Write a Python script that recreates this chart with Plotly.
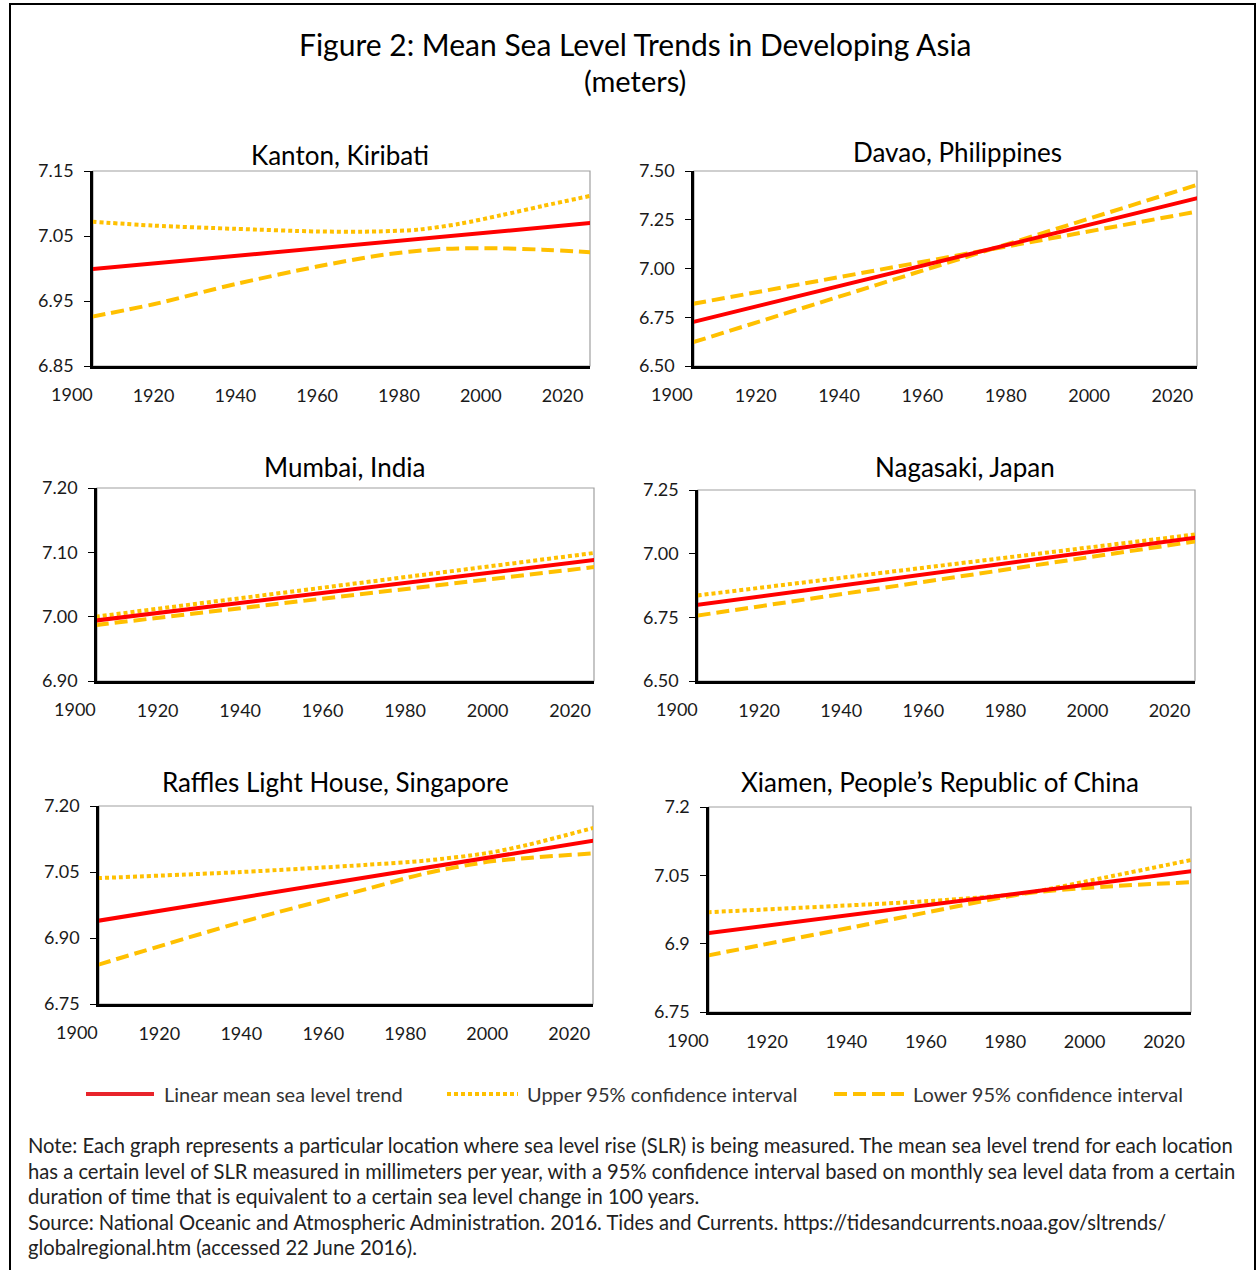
import plotly.graph_objects as go

W, H = 1257, 1270
FONT = "Lato"
RED = "#FF0000"
GOLD = "#FFC000"

# ---------------- data ----------------
titles = ["Kanton, Kiribati", "Davao, Philippines", "Mumbai, India",
          "Nagasaki, Japan", "Raffles Light House, Singapore",
          "Xiamen, People\u2019s Republic of China"]

# Kanton, Kiribati
kanton_lin_years = [1905, 2027]
kanton_lin = [6.999, 7.070]
kanton_up_years = [1905, 1920, 1940, 1960, 1975, 1985, 1995, 2005, 2015, 2027]
kanton_up = [7.072, 7.066, 7.061, 7.057, 7.057, 7.060, 7.069, 7.082, 7.096, 7.112]
kanton_lo_years = [1905, 1920, 1940, 1960, 1975, 1990, 2005, 2015, 2027]
kanton_lo = [6.926, 6.945, 6.976, 7.003, 7.020, 7.030, 7.031, 7.029, 7.025]

# Davao, Philippines
davao_years = [1905, 2027]
davao_lin = [6.726, 7.366]
davao_up = [6.622, 7.436]
davao_lo = [6.819, 7.296]

# Mumbai, India
mumbai_years = [1905, 2027]
mumbai_lin = [6.994, 7.089]
mumbai_up = [7.000, 7.100]
mumbai_lo = [6.987, 7.078]

# Nagasaki, Japan
nagasaki_years = [1905, 2027]
nagasaki_lin = [6.799, 7.064]
nagasaki_up = [6.836, 7.077]
nagasaki_lo = [6.757, 7.050]

# Raffles Light House, Singapore
raffles_lin_years = [1905, 2027]
raffles_lin = [6.939, 7.123]
raffles_ci_years = [1905, 1940, 1970, 1985, 2000, 2010, 2027]
raffles_up = [7.036, 7.050, 7.066, 7.076, 7.093, 7.112, 7.153]
raffles_lo = [6.839, 6.936, 7.010, 7.047, 7.073, 7.082, 7.093]

# Xiamen, People's Republic of China
xiamen_lin_years = [1905, 2027]
xiamen_lin = [6.923, 7.059]
xiamen_ci_years = [1905, 1945, 1965, 1985, 2005, 2027]
xiamen_up = [6.969, 6.986, 6.996, 7.011, 7.045, 7.084]
xiamen_lo = [6.874, 6.942, 6.977, 7.010, 7.025, 7.035]

x_tickvals = [1920, 1940, 1960, 1980, 2000, 2020]
x_first_label = 1900

y_ranges = [[6.85, 7.15], [6.5, 7.5], [6.9, 7.2], [6.5, 7.25], [6.75, 7.2], [6.75, 7.2]]
y_tickvals = [[6.85, 6.95, 7.05, 7.15], [6.5, 6.75, 7.0, 7.25, 7.5], [6.9, 7.0, 7.1, 7.2],
              [6.5, 6.75, 7.0, 7.25], [6.75, 6.9, 7.05, 7.2], [6.75, 6.9, 7.05, 7.2]]
y_ticktext = [["6.85", "6.95", "7.05", "7.15"], ["6.50", "6.75", "7.00", "7.25", "7.50"],
              ["6.90", "7.00", "7.10", "7.20"], ["6.50", "6.75", "7.00", "7.25"],
              ["6.75", "6.90", "7.05", "7.20"], ["6.75", "6.9", "7.05", "7.2"]]

legend_names = ["Linear mean sea level trend", "Upper 95% confidence interval",
                "Lower 95% confidence interval"]

note_lines = [
    "Note: Each graph represents a particular location where sea level rise (SLR) is being measured. "
    "The mean sea level trend for each location",
    "has a certain level of SLR measured in millimeters per year, with a 95% confidence interval "
    "based on monthly sea level data from a certain",
    "duration of time that is equivalent to a certain sea level change in 100 years.",
    "Source: National Oceanic and Atmospheric Administration. 2016. Tides and Currents. "
    "https://tidesandcurrents.noaa.gov/sltrends/",
    "globalregional.htm (accessed 22 June 2016).",
]

# ---------------- layout geometry (pixels) ----------------
panels = [  # left, right, top, bottom
    (93, 590, 171, 366),
    (694, 1197, 171, 366),
    (97, 594, 488, 681),
    (698, 1195, 490, 681),
    (99, 593, 806, 1004),
    (709, 1191, 807, 1012),
]
x_ranges = [[1905.2, 2026.7], [1905.2, 2025.9], [1905.3, 2025.8],
            [1905.1, 2026.2], [1905.3, 2025.8], [1905.4, 2026.8]]
title_pos = [(340, 155), (957, 152), (344, 467), (965, 467), (335, 782), (940, 782)]


def fx(p):
    return p / W


def fy(p):
    return 1 - p / H


series = [
    [(kanton_lin_years, kanton_lin, "solid", "linear"),
     (kanton_up_years, kanton_up, "dot", "spline"),
     (kanton_lo_years, kanton_lo, "dash", "spline")],
    [(davao_years, davao_lin, "solid", "linear"),
     (davao_years, davao_up, "dash", "linear"),
     (davao_years, davao_lo, "dash", "linear")],
    [(mumbai_years, mumbai_lin, "solid", "linear"),
     (mumbai_years, mumbai_up, "dot", "linear"),
     (mumbai_years, mumbai_lo, "dash", "linear")],
    [(nagasaki_years, nagasaki_lin, "solid", "linear"),
     (nagasaki_years, nagasaki_up, "dot", "linear"),
     (nagasaki_years, nagasaki_lo, "dash", "linear")],
    [(raffles_lin_years, raffles_lin, "solid", "linear"),
     (raffles_ci_years, raffles_up, "dot", "spline"),
     (raffles_ci_years, raffles_lo, "dash", "spline")],
    [(xiamen_lin_years, xiamen_lin, "solid", "linear"),
     (xiamen_ci_years, xiamen_up, "dot", "spline"),
     (xiamen_ci_years, xiamen_lo, "dash", "spline")],
]

DASH = {"solid": "solid", "dot": "4px,3px", "dash": "13px,6px"}
COLOR = {"solid": RED, "dot": GOLD, "dash": GOLD}
WIDTH = {"solid": 4, "dot": 4, "dash": 4}
TICKFONT = dict(family=FONT, size=18, color="#1a1a1a")

fig = go.Figure()
layout = dict(
    width=W, height=H, autosize=False,
    margin=dict(l=0, r=0, t=0, b=0, pad=0, autoexpand=False),
    paper_bgcolor="white", plot_bgcolor="white", showlegend=False,
    font=dict(family=FONT, color="#111111"),
)
annotations = []
shapes = []

for i, (l, r, t, b) in enumerate(panels):
    n = i + 1
    xa = "x" if n == 1 else f"x{n}"
    ya = "y" if n == 1 else f"y{n}"
    for k in [1, 2, 0]:  # confidence lines first, trend on top
        xs, ys, style, shape = series[i][k]
        fig.add_trace(go.Scatter(
            x=xs, y=ys, mode="lines", xaxis=xa, yaxis=ya,
            name=legend_names[k],
            line=dict(color=COLOR[style], width=WIDTH[style], dash=DASH[style],
                      shape=shape, smoothing=0.8 if shape == "spline" else None),
            hoverinfo="skip",
        ))
    layout["xaxis" if n == 1 else f"xaxis{n}"] = dict(
        domain=[fx(l), fx(r)], range=x_ranges[i], anchor=ya, automargin=False,
        tickvals=x_tickvals, showgrid=False, zeroline=False,
        showline=True, linecolor="black", linewidth=2.5, ticks="",
        ticklabelstandoff=12, tickfont=TICKFONT,
    )
    layout["yaxis" if n == 1 else f"yaxis{n}"] = dict(
        domain=[fy(b), fy(t)], range=y_ranges[i], anchor=xa, automargin=False,
        tickvals=y_tickvals[i], ticktext=y_ticktext[i], showgrid=False,
        zeroline=False, showline=True, linecolor="black", linewidth=2.5,
        ticks="outside", ticklen=6, tickwidth=1.2, tickcolor="black",
        ticklabelstandoff=7, tickfont=TICKFONT,
    )
    # gray frame (top/right)
    shapes.append(dict(type="rect", xref=f"{xa} domain", yref=f"{ya} domain",
                       x0=0, x1=1, y0=0, y1=1, layer="below",
                       line=dict(color="#A0A0A0", width=1.2)))
    # first x tick label (1900) sits left of the plotted range
    r0, r1 = x_ranges[i]
    annotations.append(dict(
        xref=f"{xa} domain", yref=f"{ya} domain",
        x=(x_first_label - r0) / (r1 - r0), y=0, yanchor="top",
        xanchor="center", showarrow=False, yshift=-15,
        text=str(x_first_label), font=TICKFONT,
    ))
    # subplot title
    tx, ty = title_pos[i]
    annotations.append(dict(
        xref="paper", yref="paper", x=fx(tx), y=fy(ty), xanchor="center",
        yanchor="middle", showarrow=False, text=titles[i],
        font=dict(family=FONT, size=26, color="#000000"),
    ))

# main title
annotations.append(dict(xref="paper", yref="paper", x=fx(635), y=fy(44),
                        xanchor="center", yanchor="middle", showarrow=False,
                        text="Figure 2: Mean Sea Level Trends in Developing Asia",
                        font=dict(family=FONT, size=30, color="#000000")))
annotations.append(dict(xref="paper", yref="paper", x=fx(635), y=fy(80),
                        xanchor="center", yanchor="middle", showarrow=False,
                        text="(meters)",
                        font=dict(family=FONT, size=29, color="#000000")))

# custom legend
leg_y = 1094
leg_items = [(86, 154, 162, "solid"), (447, 518, 525, "dot"), (834, 905, 911, "dash")]
for (x0, x1, tx, style), name in zip(leg_items, legend_names):
    shapes.append(dict(type="line", xref="paper", yref="paper",
                       x0=fx(x0), x1=fx(x1), y0=fy(leg_y), y1=fy(leg_y),
                       line=dict(color=COLOR[style] if style != "solid" else "#E8242B",
                                 width=4, dash=DASH[style])))
    annotations.append(dict(xref="paper", yref="paper", x=fx(tx), y=fy(leg_y),
                            xanchor="left", yanchor="middle", showarrow=False,
                            text=name, font=dict(family=FONT, size=20, color="#333333")))

# note / source lines
for j, line in enumerate(note_lines):
    annotations.append(dict(xref="paper", yref="paper", x=fx(26), y=fy(1145 + 25.5 * j),
                            xanchor="left", yanchor="middle", align="left", showarrow=False,
                            text=line, font=dict(family=FONT, size=20.2, color="#222222")))

# outer frame
shapes.append(dict(type="rect", xref="paper", yref="paper",
                   x0=fx(10), x1=fx(1255), y0=-0.02, y1=fy(4),
                   line=dict(color="black", width=2)))

layout["annotations"] = annotations
layout["shapes"] = shapes
fig.update_layout(**layout)
fig.write_html("out.html", config={"responsive": False, "displayModeBar": False},
               post_script="document.body.style.margin='0';document.body.style.overflow='hidden';")
